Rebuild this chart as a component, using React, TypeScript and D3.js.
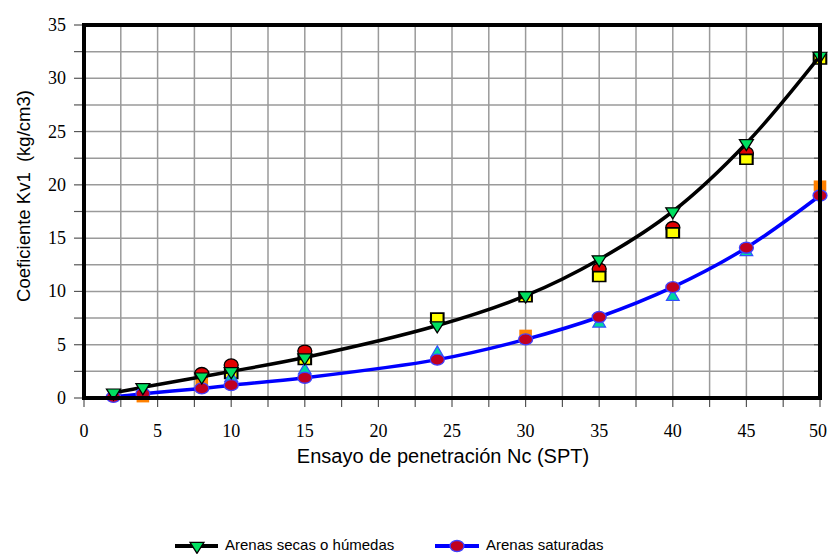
import React, { useRef, useEffect } from "react";
import * as d3 from "d3";

// ensayo SPT (Nc)
const nc = [2, 4, 8, 10, 15, 24, 30, 35, 40, 45, 50];
// Arenas secas o humedas (curva negra, triangulos verdes)
const secas = [0.5, 1.0, 2.0, 2.5, 3.8, 6.8, 9.6, 13.0, 17.5, 23.9, 32.1];
// Arenas saturadas (curva azul, circulos rojos)
const saturadas = [0.1, 0.4, 0.9, 1.2, 1.9, 3.6, 5.5, 7.6, 10.4, 14.1, 19.0];

// puntos sueltos de otras fuentes
const rojoX = [8, 10, 15, 35, 40, 45];
const rojoY = [2.3, 3.1, 4.4, 12.1, 16.0, 23.0];
const amarilloX = [10, 15, 24, 30, 35, 40, 45, 50];
const amarilloY = [2.3, 3.6, 7.5, 9.5, 11.4, 15.5, 22.4, 31.8];
const cianX = [10, 15, 24, 35, 40, 45];
const cianY = [1.9, 2.6, 4.2, 7.0, 9.5, 13.7];
const naranjaX = [4, 8, 30, 50];
const naranjaY = [0.1, 1.4, 5.9, 19.9];

const xTicks = [0, 5, 10, 15, 20, 25, 30, 35, 40, 45, 50];
const yTicks = [0, 5, 10, 15, 20, 25, 30, 35];

const serif = "'Liberation Serif', serif";
const sans = "Liberation Sans";

function App() {
    const ref = useRef(null);

    useEffect(() => {
        draw();
    }, []);

    const draw = () => {
        const svg = d3.select(ref.current);
        svg.selectAll("*").remove();

        let left = 84, right = 820, top = 25, bottom = 398;
        let x = d3.scaleLinear().domain([0, 50]).range([left, right]);
        let y = d3.scaleLinear().domain([0, 35]).range([bottom, top]);

        // grid every 2.5
        let grid = svg.append("g");
        let gx = d3.range(2.5, 50, 2.5);
        let gy = d3.range(2.5, 35, 2.5);
        grid.selectAll(".vx").data(gx).enter().append("line")
            .attr("x1", d => x(d)).attr("x2", d => x(d))
            .attr("y1", top).attr("y2", bottom)
            .attr("stroke", "#9a9a9a").attr("stroke-width", 1.5);
        grid.selectAll(".hy").data(gy).enter().append("line")
            .attr("x1", left).attr("x2", right)
            .attr("y1", d => y(d)).attr("y2", d => y(d))
            .attr("stroke", "#9a9a9a").attr("stroke-width", 1.5);

        // tick marks
        let ticks = svg.append("g").attr("stroke", "#555").attr("stroke-width", 1.2);
        ticks.selectAll(".tx").data(d3.range(0, 50.1, 2.5)).enter().append("line")
            .attr("x1", d => x(d)).attr("x2", d => x(d))
            .attr("y1", bottom).attr("y2", bottom + 9);
        ticks.selectAll(".ty").data(d3.range(0, 35.1, 2.5)).enter().append("line")
            .attr("x1", left - 10).attr("x2", left)
            .attr("y1", d => y(d)).attr("y2", d => y(d));
        ticks.selectAll(".tr").data(gy).enter().append("line")
            .attr("x1", right - 6).attr("x2", right)
            .attr("y1", d => y(d)).attr("y2", d => y(d));

        // tick labels
        svg.append("g").selectAll("text").data(xTicks).enter().append("text")
            .attr("x", d => Math.min(x(d), 818)).attr("y", 437)
            .attr("text-anchor", "middle")
            .style("font-family", serif)
            .style("font-size", "18px")
            .text(d => d);
        svg.append("g").selectAll("text").data(yTicks).enter().append("text")
            .attr("x", 66).attr("y", d => y(d) + 6)
            .attr("text-anchor", "end")
            .style("font-family", serif)
            .style("font-size", "18px")
            .text(d => d);

        // titles
        svg.append("text")
            .attr("x", 443).attr("y", 463)
            .attr("text-anchor", "middle")
            .style("font-family", sans)
            .style("font-size", "20px")
            .text("Ensayo de penetración Nc (SPT)");
        svg.append("text")
            .attr("transform", "translate(30,196) rotate(-90)")
            .attr("text-anchor", "middle")
            .style("font-family", sans)
            .style("font-size", "18.5px")
            .style("white-space", "pre")
            .text("Coeficiente Kv1  (kg/cm3)");

        let tri = d3.symbol().type(d3.symbolTriangle).size(70);
        let sq = d3.symbol().type(d3.symbolSquare).size(120);
        let line = d3.line().x(d => x(d[0])).y(d => y(d[1])).curve(d3.curveCatmullRom);

        // red domes and yellow squares
        svg.append("g").selectAll("ellipse").data(d3.zip(rojoX, rojoY)).enter().append("ellipse")
            .attr("cx", d => x(d[0])).attr("cy", d => y(d[1]))
            .attr("rx", 7).attr("ry", 6)
            .attr("fill", "#e00000").attr("stroke", "#000").attr("stroke-width", 1.3);
        svg.append("g").selectAll("path").data(d3.zip(amarilloX, amarilloY)).enter().append("path")
            .attr("d", sq)
            .attr("transform", d => "translate(" + x(d[0]) + "," + y(d[1]) + ") scale(1.15,0.9)")
            .attr("fill", "#ffff00").attr("stroke", "#000").attr("stroke-width", 1.8);

        // orange squares and cyan triangles
        svg.append("g").selectAll("path").data(d3.zip(naranjaX, naranjaY)).enter().append("path")
            .attr("d", sq)
            .attr("transform", d => "translate(" + x(d[0]) + "," + y(d[1]) + ") scale(1.15,1)")
            .attr("fill", "#ff8000");
        svg.append("g").selectAll("path").data(d3.zip(cianX, cianY)).enter().append("path")
            .attr("d", tri)
            .attr("transform", d => "translate(" + x(d[0]) + "," + y(d[1]) + ")")
            .attr("fill", "#00d8a0").attr("stroke", "#3050ff").attr("stroke-width", 1.2);

        // curves
        svg.append("path").datum(d3.zip(nc, saturadas))
            .attr("d", line).attr("fill", "none")
            .attr("stroke", "#0000ff").attr("stroke-width", 3.5);
        svg.append("path").datum(d3.zip(nc, secas))
            .attr("d", line).attr("fill", "none")
            .attr("stroke", "#000").attr("stroke-width", 3.5);

        svg.append("g").selectAll("ellipse").data(d3.zip(nc, saturadas)).enter().append("ellipse")
            .attr("cx", d => x(d[0])).attr("cy", d => y(d[1]))
            .attr("rx", 7).attr("ry", 5.5)
            .attr("fill", "#c00020").attr("stroke", "#4040ff").attr("stroke-width", 1.3);
        svg.append("g").selectAll("path").data(d3.zip(nc, secas)).enter().append("path")
            .attr("d", tri)
            .attr("transform", d => "translate(" + x(d[0]) + "," + y(d[1]) + ") rotate(180) scale(1.1,1)")
            .attr("fill", "#00e060").attr("stroke", "#000").attr("stroke-width", 1.2);

        // frame
        svg.append("rect")
            .attr("x", left).attr("y", top)
            .attr("width", right - left).attr("height", bottom - top)
            .attr("fill", "none").attr("stroke", "#000").attr("stroke-width", 4);

        // legend
        let lg = svg.append("g");
        lg.append("line").attr("x1", 175).attr("x2", 218).attr("y1", 546).attr("y2", 546)
            .attr("stroke", "#000").attr("stroke-width", 4);
        lg.append("path").attr("d", tri)
            .attr("transform", "translate(197,546) rotate(180) scale(1.1,1)")
            .attr("fill", "#00e060").attr("stroke", "#000").attr("stroke-width", 1.2);
        lg.append("text").attr("x", 225).attr("y", 550)
            .style("font-family", sans).style("font-size", "15px")
            .text("Arenas secas o húmedas");
        lg.append("line").attr("x1", 435).attr("x2", 479).attr("y1", 546).attr("y2", 546)
            .attr("stroke", "#0000ff").attr("stroke-width", 4);
        lg.append("ellipse").attr("cx", 457).attr("cy", 546).attr("rx", 7).attr("ry", 5.5)
            .attr("fill", "#c00020").attr("stroke", "#4040ff").attr("stroke-width", 1.3);
        lg.append("text").attr("x", 486).attr("y", 550)
            .style("font-family", sans).style("font-size", "15px")
            .text("Arenas saturadas");
    };

    return (
        <div style={{ position: "absolute", left: 0, top: 0 }}>
            <svg ref={ref} width={828} height={554} style={{ display: "block", background: "#fff" }}></svg>
        </div>
    );
}

export default App;
